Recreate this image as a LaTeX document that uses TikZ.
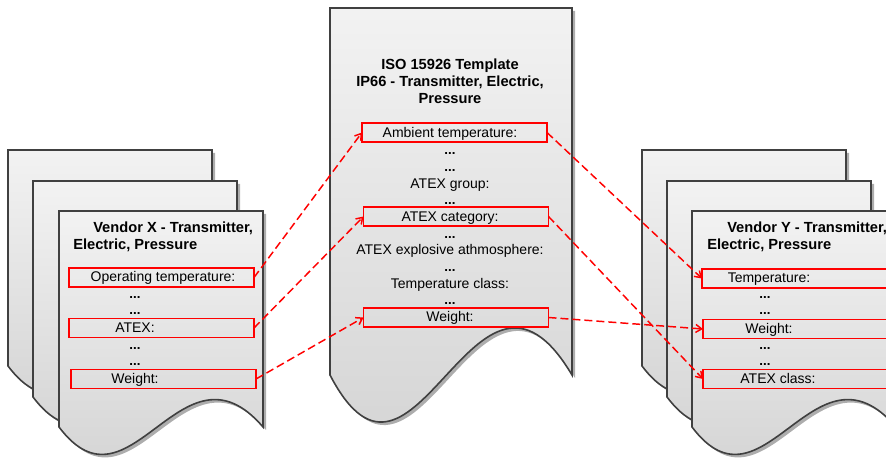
\documentclass[tikz,border=0pt]{standalone}
\usepackage{fontspec}
\setmainfont{Liberation Sans}
\usetikzlibrary{arrows.meta}

% x, y, width, edge height, wave
\newcommand{\docpage}[5]{%
  \fill[docshadow, shift={(3,3)}] (#1,#2) -- ({#1+#3},#2) -- ({#1+#3},{#2+#4})
    .. controls ({#1+0.6*#3},{#2+#4-#5}) and ({#1+0.35*#3},{#2+#4+#5}) .. (#1,{#2+#4}) -- cycle;
  \shade[docpage] (#1,#2) -- ({#1+#3},#2) -- ({#1+#3},{#2+#4})
    .. controls ({#1+0.6*#3},{#2+#4-#5}) and ({#1+0.35*#3},{#2+#4+#5}) .. (#1,{#2+#4}) -- cycle;
}

\begin{document}
\begin{tikzpicture}[
  x=0.75pt, y=-0.75pt,
  font=\fontsize{10.5}{12.5}\selectfont,
  docpage/.style={draw=black!75, line width=1.2pt, top color=black!5, bottom color=black!19},
  docshadow/.style={fill=black!32},
  field/.style={draw=red, line width=1.1pt, inner sep=0pt, outer sep=0pt, minimum width=138.75pt, minimum height=14pt},
  txt/.style={anchor=base, inner sep=0pt},
  dots/.style={anchor=base, inner sep=0pt, font=\bfseries},
  title/.style={inner sep=0pt, font=\bfseries\fontsize{11}{12.6}\selectfont},
  link/.style={draw=red, line width=1.1pt, dash pattern=on 6pt off 3pt, -{Straight Barb[length=4.5pt, width=6pt]}}
]
\useasboundingbox (0,0) rectangle (886,459);
\clip (0,0) rectangle (886,459);

% vendor X sheets
\docpage{8}{150}{204}{216}{95}
\docpage{33}{181}{204}{216}{95}
\docpage{59}{211}{204}{216}{95}

% template sheet
\docpage{330}{8}{242}{367}{163}

% vendor Y sheets
\docpage{642}{150}{204}{216}{95}
\docpage{667}{181}{204}{216}{95}
\docpage{692}{211}{204}{216}{95}

% vendor X fields
\node[title, anchor=north west, align=left] (xtitle) at (73,222) {\hspace*{15pt}Vendor X - Transmitter,\\Electric, Pressure};
\node[field] (xop) at (161.5,277.5) {};
\node[field] (xatex) at (161.5,328) {};
\node[field] (xweight) at (163.5,379) {};
\node[txt] (xoptxt) at (163,282) {Operating temperature:};
\node[dots] (xd1) at (135,299) {...};
\node[dots] (xd2) at (135,315) {...};
\node[txt] (xatextxt) at (135,333) {ATEX:};
\node[dots] (xd3) at (135,350) {...};
\node[dots] (xd4) at (135,366) {...};
\node[txt] (xweighttxt) at (135,384) {Weight:};

% template fields
\node[title, anchor=north, align=center] (ttitle) at (450,59) {ISO 15926 Template\\IP66 - Transmitter, Electric,\\Pressure};
\node[field] (tamb) at (454.5,132.5) {};
\node[field] (tcat) at (456,216.5) {};
\node[field] (tweight) at (456,317.5) {};
\node[txt] (tambtxt) at (450,138) {Ambient temperature:};
\node[dots] (td1) at (450,154.7) {...};
\node[dots] (td2) at (450,171.4) {...};
\node[txt] (tgroup) at (450,188.1) {ATEX group:};
\node[dots] (td3) at (450,204.8) {...};
\node[txt] (tcattxt) at (450,221.5) {ATEX category:};
\node[dots] (td4) at (450,238.2) {...};
\node[txt] (texpl) at (450,254.9) {ATEX explosive athmosphere:};
\node[dots] (td5) at (450,271.6) {...};
\node[txt] (tclass) at (450,288.3) {Temperature class:};
\node[dots] (td6) at (450,305) {...};
\node[txt] (tweighttxt) at (450,321.7) {Weight:};

% vendor Y fields
\node[title, anchor=north west, align=left] (ytitle) at (707,222) {\hspace*{15pt}Vendor Y - Transmitter,\\Electric, Pressure};
\node[field] (ytemp) at (794.5,278.5) {};
\node[field] (yweight) at (795.5,329) {};
\node[field] (yclass) at (795.5,379) {};
\node[txt] (ytemptxt) at (769,283) {Temperature:};
\node[dots] (yd1) at (765,299) {...};
\node[dots] (yd2) at (765,315) {...};
\node[txt] (yweighttxt) at (769,334) {Weight:};
\node[dots] (yd3) at (765,350) {...};
\node[dots] (yd4) at (765,366) {...};
\node[txt] (yclasstxt) at (778,384) {ATEX class:};

% mappings
\draw[link] (xop.east) -- (tamb.west);
\draw[link] (xatex.east) -- (tcat.west);
\draw[link] (xweight.east) -- (tweight.west);
\draw[link] (tamb.east) -- (ytemp.west);
\draw[link] (tcat.east) -- (yclass.west);
\draw[link] (tweight.east) -- (yweight.west);
\end{tikzpicture}
\end{document}
